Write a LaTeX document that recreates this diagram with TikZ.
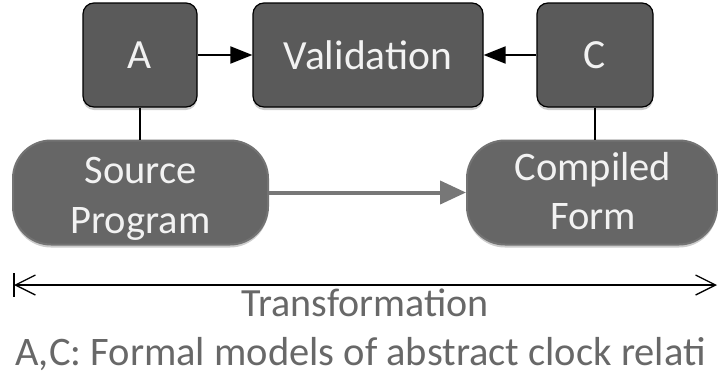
\documentclass[tikz,border=0pt]{standalone}
\usepackage{fontspec}
\setmainfont{Carlito}
\usetikzlibrary{arrows.meta,shadows}
\definecolor{boxfill}{HTML}{5A5A5A}
\definecolor{pillfill}{HTML}{666666}
\definecolor{pillline}{HTML}{737373}
\definecolor{txtgray}{HTML}{686868}
\definecolor{arrgray}{HTML}{777777}
\definecolor{offwhite}{HTML}{F2F2F2}
\tikzset{
  sqbox/.style={draw=black, line width=1.2pt, fill=boxfill, rounded corners=11pt,
    text=offwhite, font=\fontsize{41.5}{48}\selectfont, inner sep=0pt,
    minimum height=104pt,
    drop shadow={shadow xshift=0pt, shadow yshift=-3pt, opacity=0.2, fill=black}},
  pill/.style={draw=pillline, line width=2pt, fill=pillfill, rounded corners=38pt,
    inner sep=0pt, minimum height=104pt,
    drop shadow={shadow xshift=0pt, shadow yshift=-3pt, opacity=0.2, fill=black}},
  pilltxt/.style={text=offwhite, font=\fontsize{40.5}{50}\selectfont, inner sep=0pt, anchor=base},
  blackarr/.style={draw=black, line width=2pt, -{Triangle[length=22pt,width=17pt]}},
  blackln/.style={draw=black, line width=2pt},
  grayarr/.style={draw=arrgray, line width=4pt, -{Triangle[length=26pt,width=23pt]}},
  dimarr/.style={draw=black, line width=1.3pt,
    {Straight Barb[length=20pt,width=20pt,line width=1.3pt]}-{Straight Barb[length=20pt,width=20pt,line width=1.3pt]}},
  lbl/.style={text=txtgray, inner sep=0pt},
}
\begin{document}
\begin{tikzpicture}[x=1pt,y=-1pt]
\useasboundingbox (0,0) rectangle (718,378);
\clip (0,0) rectangle (718,378);
\fill[white] (0,0) rectangle (718,378);
% top boxes
\node[sqbox, minimum width=114pt] (A) at (140,55) {A};
\node[sqbox, minimum width=230pt] (V) at (368,55) {Validation};
\node[sqbox, minimum width=116pt] (C) at (595,55) {C};
% pills
\node[pill, minimum width=255pt] (S) at (140.5,192.5) {};
\node[pill, minimum width=250pt] (F) at (592,192.5) {};
\node[pilltxt] (S1) at (140.5,183) {Source};
\node[pilltxt] (S2) at (140.5,233) {Program};
\node[pilltxt] (F1) at (593,180) {Compiled};
\node[pilltxt] (F2) at (593,229) {Form};
% connectors
\draw[blackarr] (A.east) -- (V.west);
\draw[blackarr] (C.west) -- (V.east);
\draw[blackln] (A.south) -- (S.north -| A.south);
\draw[blackln] (C.south) -- (F.north -| C.south);
\draw[grayarr] (S.east) -- (F.west);
% transformation dimension
\coordinate (L) at (14,285);
\coordinate (R) at (717,285);
\draw[dimarr] (L) -- (R);
\draw[black, line width=1.3pt] (L) ++(0,-12) -- ++(0,24);
\node[lbl, anchor=base, font=\fontsize{40}{46}\selectfont] (T) at (365,316) {Transformation};
\node[lbl, anchor=base west, font=\fontsize{40.5}{48}\selectfont] (N) at (15,365) {A,C: Formal models of abstract clock relati};
\end{tikzpicture}
\end{document}
